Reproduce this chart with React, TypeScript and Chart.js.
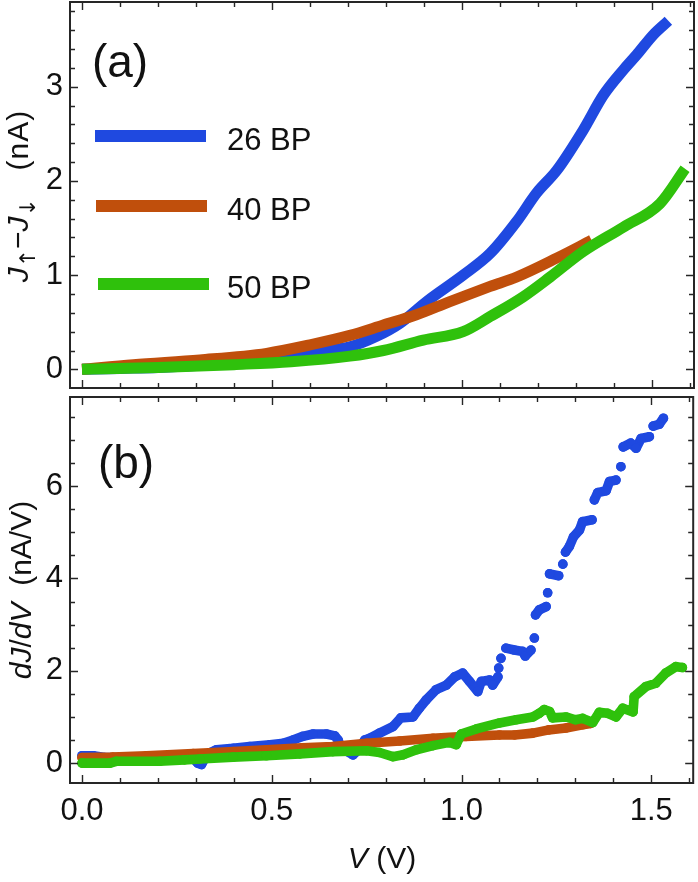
import React, { useEffect, useRef } from "react";
import { Chart, registerables } from "chart.js";

Chart.register(...registerables);

const FONT = '"Liberation Sans", Arial, Helvetica, sans-serif';

// ---- panel (a): J_up - J_down (nA) vs V (V)
const v26 = [0, 0.1, 0.2, 0.3, 0.4, 0.5, 0.57, 0.64, 0.705, 0.775, 0.837, 0.907, 1.003, 1.074, 1.144, 1.196, 1.249, 1.319, 1.372, 1.425, 1.46, 1.503, 1.543];
const j26 = [0, 0.01, 0.02, 0.04, 0.07, 0.11, 0.16, 0.2, 0.24, 0.35, 0.49, 0.72, 1.0, 1.23, 1.57, 1.87, 2.11, 2.54, 2.91, 3.18, 3.34, 3.55, 3.7];

const v40 = [0, 0.135, 0.31, 0.486, 0.6, 0.705, 0.793, 0.88, 0.968, 1.074, 1.144, 1.249, 1.341];
const j40 = [0, 0.05, 0.1, 0.17, 0.26, 0.36, 0.47, 0.58, 0.72, 0.88, 0.98, 1.18, 1.37];

const v50 = [0, 0.2, 0.4, 0.55, 0.705, 0.793, 0.898, 1.003, 1.074, 1.161, 1.232, 1.319, 1.425, 1.521, 1.587];
const j50 = [0, 0.02, 0.05, 0.08, 0.14, 0.2, 0.31, 0.4, 0.56, 0.77, 0.98, 1.25, 1.51, 1.76, 2.13];

// ---- panel (b): dJ/dV (nA/V) vs V (V); null = gap between separate dots
const dv26 = [0, 0.03, 0.06, 0.12, 0.18, 0.24, 0.29, 0.305, 0.315, 0.33, 0.354, 0.398, 0.442, 0.495, 0.53, 0.556, 0.582, 0.609, 0.644, 0.666, 0.675, 0.68, 0.7, 0.714, 0.73, 0.745, 0.758, 0.784, 0.819, 0.84, 0.872, 0.889, 0.907, 0.933, 0.96, 0.982, 1.003, 1.021, 1.043, 1.052, 1.074, 1.082, 1.096,
  1.097, 1.098, 1.1, 1.104, 1.11, 1.117, 1.139, 1.161, 1.168, 1.183, 1.188, 1.192, 1.194, 1.195, 1.205, 1.223, 1.225, 1.227, 1.23, 1.232, 1.256, 1.26, 1.267, 1.27, 1.274, 1.284, 1.295, 1.311, 1.319, 1.344, 1.347, 1.35, 1.359, 1.381, 1.39, 1.407, 1.41, 1.42, 1.423, 1.426, 1.446, 1.46, 1.473, 1.495, 1.5, 1.505, 1.521, 1.532];
const d26 = [0.16, 0.16, 0.12, 0.12, 0.13, 0.14, 0.12, 0.0, -0.03, 0.2, 0.29, 0.32, 0.36, 0.4, 0.43, 0.5, 0.58, 0.63, 0.63, 0.59, 0.5, 0.37, 0.25, 0.18, 0.3, 0.5, 0.54, 0.65, 0.79, 0.98, 1.0, 1.19, 1.37, 1.59, 1.69, 1.87, 1.95, 1.77, 1.55, 1.77, 1.8, 1.69, 1.87,
  null, 2.06, null, 2.27, null, 2.49, 2.45, 2.42, 2.32, 2.45, null, 2.71, null, 3.21, 3.32, 3.39, null, 3.69, null, 4.1, 4.06, null, 4.31, null, 4.57, 4.69, 4.9, 5.05, 5.23, 5.27, null, 5.7, 5.86, 5.9, 6.1, 6.13, null, 6.42, null, 6.85, 6.93, 6.82, 7.03, 7.07, null, 7.3, 7.34, 7.47];

const dv40 = [0, 0.08, 0.17, 0.293, 0.4, 0.486, 0.58, 0.661, 0.75, 0.837, 0.925, 1.012, 1.1, 1.14, 1.188, 1.23, 1.275, 1.319, 1.34];
const d40 = [0.12, 0.13, 0.16, 0.21, 0.25, 0.29, 0.33, 0.36, 0.43, 0.48, 0.54, 0.58, 0.61, 0.61, 0.65, 0.72, 0.76, 0.83, 0.86];

const dv50 = [0, 0.074, 0.09, 0.205, 0.27, 0.31, 0.398, 0.486, 0.574, 0.661, 0.75, 0.784, 0.819, 0.846, 0.881, 0.925, 0.968, 0.986, 0.999, 1.039, 1.1, 1.144, 1.188, 1.205, 1.218, 1.232, 1.24, 1.275, 1.3, 1.319, 1.346, 1.363, 1.385, 1.407, 1.425, 1.452, 1.455, 1.486, 1.512, 1.538, 1.565, 1.582];
const d50 = [0.0, 0.0, 0.04, 0.04, 0.07, 0.09, 0.13, 0.16, 0.2, 0.25, 0.27, 0.23, 0.14, 0.18, 0.29, 0.38, 0.45, 0.4, 0.63, 0.74, 0.87, 0.94, 1.0, 1.08, 1.16, 1.12, 0.98, 1.0, 0.94, 0.97, 0.88, 1.1, 1.08, 1.0, 1.19, 1.11, 1.44, 1.66, 1.73, 1.95, 2.09, 2.07];

const seriesNames = ["26 BP", "40 BP", "50 BP"];
const seriesColors = ["#1f49e0", "#c04f0c", "#2fc10c"];

const xTicks = [0, 0.5, 1.0, 1.5];
const yTicksA = [0, 1, 2, 3];
const yTicksB = [0, 2, 4, 6];

const X_MIN = -0.0316;
const X_MAX = 1.6105;

const pts = (xs: number[], ys: (number | null)[]) => xs.map((x, i) => ({ x, y: ys[i] }));

// Mathematica-like frame: box plus inward ticks on all four sides
const framePlugin = {
  id: "frame",
  afterDatasetsDraw(chart: any, _args: any, opts: any) {
    const { ctx, chartArea: a, scales } = chart;
    const xs = scales.x;
    const ys = scales.y;
    ctx.save();
    ctx.strokeStyle = "#262626";
    ctx.lineWidth = 1.4;
    const isMajor = (v: number, list: number[]) => list.some((m) => Math.abs(m - v) < 1e-6);
    ctx.beginPath();
    for (let i = Math.ceil(xs.min / opts.xMinor); i * opts.xMinor <= xs.max + 1e-9; i++) {
      const v = i * opts.xMinor;
      const px = Math.round(xs.getPixelForValue(v)) + 0.5;
      const len = isMajor(v, opts.xMajor) ? 8 : 5;
      ctx.moveTo(px, a.bottom);
      ctx.lineTo(px, a.bottom - len);
      ctx.moveTo(px, a.top);
      ctx.lineTo(px, a.top + len);
    }
    for (let i = Math.ceil(ys.min / opts.yMinor); i * opts.yMinor <= ys.max + 1e-9; i++) {
      const v = i * opts.yMinor;
      const py = Math.round(ys.getPixelForValue(v)) + 0.5;
      const len = isMajor(v, opts.yMajor) ? 8 : 5;
      ctx.moveTo(a.left, py);
      ctx.lineTo(a.left + len, py);
      ctx.moveTo(a.right, py);
      ctx.lineTo(a.right - len, py);
    }
    ctx.stroke();
    ctx.lineWidth = 2;
    ctx.strokeRect(a.left, a.top, a.right - a.left, a.bottom - a.top);
    ctx.restore();
  },
};

type PanelProps = {
  datasets: any[];
  yMin: number;
  yMax: number;
  yTicks: number[];
  yMinor: number;
  showX: boolean;
  xAxisHeight: number;
  padTop: number;
};

function Panel({ datasets, yMin, yMax, yTicks, yMinor, showX, xAxisHeight, padTop }: PanelProps) {
  const canvasRef = useRef<HTMLCanvasElement | null>(null);

  useEffect(() => {
    if (!canvasRef.current) return;
    const chart = new Chart(canvasRef.current, {
      type: "line",
      data: { datasets },
      plugins: [framePlugin],
      options: {
        animation: false,
        responsive: true,
        maintainAspectRatio: false,
        layout: { padding: { top: padTop, right: 4, left: 0, bottom: 0 } },
        plugins: {
          legend: { display: false },
          tooltip: { enabled: false },
          frame: { xMinor: 0.1, xMajor: xTicks, yMinor, yMajor: yTicks },
        } as any,
        scales: {
          x: {
            type: "linear",
            min: X_MIN,
            max: X_MAX,
            grid: { display: false, drawTicks: false },
            border: { display: false },
            ticks: {
              display: showX,
              color: "#111",
              padding: 10,
              maxRotation: 0,
              autoSkip: false,
              font: { family: FONT, size: 31 },
              callback: (v: any) => Number(v).toFixed(1),
            },
            afterBuildTicks: (s: any) => {
              s.ticks = xTicks.map((value) => ({ value }));
            },
            afterFit: (s: any) => {
              s.height = xAxisHeight;
              s.paddingLeft = 0;
              s.paddingRight = 0;
            },
          },
          y: {
            type: "linear",
            min: yMin,
            max: yMax,
            grid: { display: false, drawTicks: false },
            border: { display: false },
            ticks: {
              color: "#111",
              padding: 7,
              font: { family: FONT, size: 31 },
              callback: (v: any) => String(v),
            },
            afterBuildTicks: (s: any) => {
              s.ticks = yTicks.map((value) => ({ value }));
            },
            afterFit: (s: any) => {
              s.width = 70;
              s.paddingTop = 0;
              s.paddingBottom = 0;
            },
          },
        },
      },
    });
    return () => chart.destroy();
  }, []);

  return <canvas ref={canvasRef} />;
}

const abs = (left: number, top: number, extra: React.CSSProperties = {}): React.CSSProperties => ({
  position: "absolute",
  left,
  top,
  fontFamily: FONT,
  color: "#111",
  lineHeight: 1,
  whiteSpace: "nowrap",
  ...extra,
});

const sub: React.CSSProperties = {
  fontFamily: '"DejaVu Sans", sans-serif',
  fontSize: "0.72em",
  verticalAlign: "-0.3em",
  fontStyle: "normal",
};

export default function App() {
  const lineSets = [
    { v: v26, j: j26 },
    { v: v40, j: j40 },
    { v: v50, j: j50 },
  ].map((s, i) => ({
    data: pts(s.v, s.j),
    borderColor: seriesColors[i],
    borderWidth: 11,
    pointRadius: 0,
    cubicInterpolationMode: "monotone",
    borderCapStyle: "butt",
    order: 3 - i,
  }));

  const dotSets = [
    { v: dv26, d: d26 },
    { v: dv40, d: d40 },
    { v: dv50, d: d50 },
  ].map((s, i) => ({
    data: pts(s.v, s.d),
    borderColor: seriesColors[i],
    backgroundColor: seriesColors[i],
    borderWidth: 9.6,
    borderCapStyle: "round",
    borderJoinStyle: "round",
    pointRadius: 4.8,
    pointBorderWidth: 0,
    pointBackgroundColor: seriesColors[i],
    spanGaps: false,
    tension: 0,
    order: 3 - i,
  }));

  const legendRows = [
    { swLeft: 95, swTop: 130, textTop: 124 },
    { swLeft: 96, swTop: 200, textTop: 194 },
    { swLeft: 98, swTop: 278, textTop: 272 },
  ];

  return (
    <div style={{ position: "absolute", left: 0, top: 0, width: 698, height: 882, background: "#fff", overflow: "hidden" }}>
      <div style={{ position: "absolute", left: 0, top: 0, width: 698, height: 400 }}>
        <Panel datasets={lineSets} yMin={-0.198} yMax={3.899} yTicks={yTicksA} yMinor={0.2} showX={false} xAxisHeight={12} padTop={2} />
      </div>
      <div style={{ position: "absolute", left: 0, top: 392, width: 698, height: 490 }}>
        <Panel datasets={dotSets} yMin={-0.43} yMax={7.93} yTicks={yTicksB} yMinor={0.5} showX={true} xAxisHeight={99} padTop={5} />
      </div>

      <div style={abs(120, 61, { fontSize: 46, transform: "translate(-50%, -50%)" })}>(a)</div>
      <div style={abs(126, 462, { fontSize: 46, transform: "translate(-50%, -50%)" })}>(b)</div>

      {legendRows.map((r, i) => (
        <React.Fragment key={seriesNames[i]}>
          <div style={{ position: "absolute", left: r.swLeft, top: r.swTop, width: 111, height: 12, background: seriesColors[i] }} />
          <div style={abs(227, r.textTop, { fontSize: 31 })}>{seriesNames[i]}</div>
        </React.Fragment>
      ))}

      <div style={abs(21, 196, { fontSize: 30, transform: "translate(-50%, -50%) rotate(-90deg)" })}>
        <i>J</i>
        <span style={sub}>↑</span>−<i>J</i>
        <span style={sub}>↓</span>
        <span style={{ letterSpacing: 1 }}>{"\u00a0\u00a0\u00a0(nA)"}</span>
      </div>
      <div style={abs(21, 590, { fontSize: 30, transform: "translate(-50%, -50%) rotate(-90deg)" })}>
        <i>dJ</i>/<i>dV</i>
        <span>{"\u00a0\u00a0(nA/V)"}</span>
      </div>
      <div style={abs(382, 858, { fontSize: 30, transform: "translate(-50%, -50%)" })}>
        <i>V</i> (V)
      </div>
    </div>
  );
}
